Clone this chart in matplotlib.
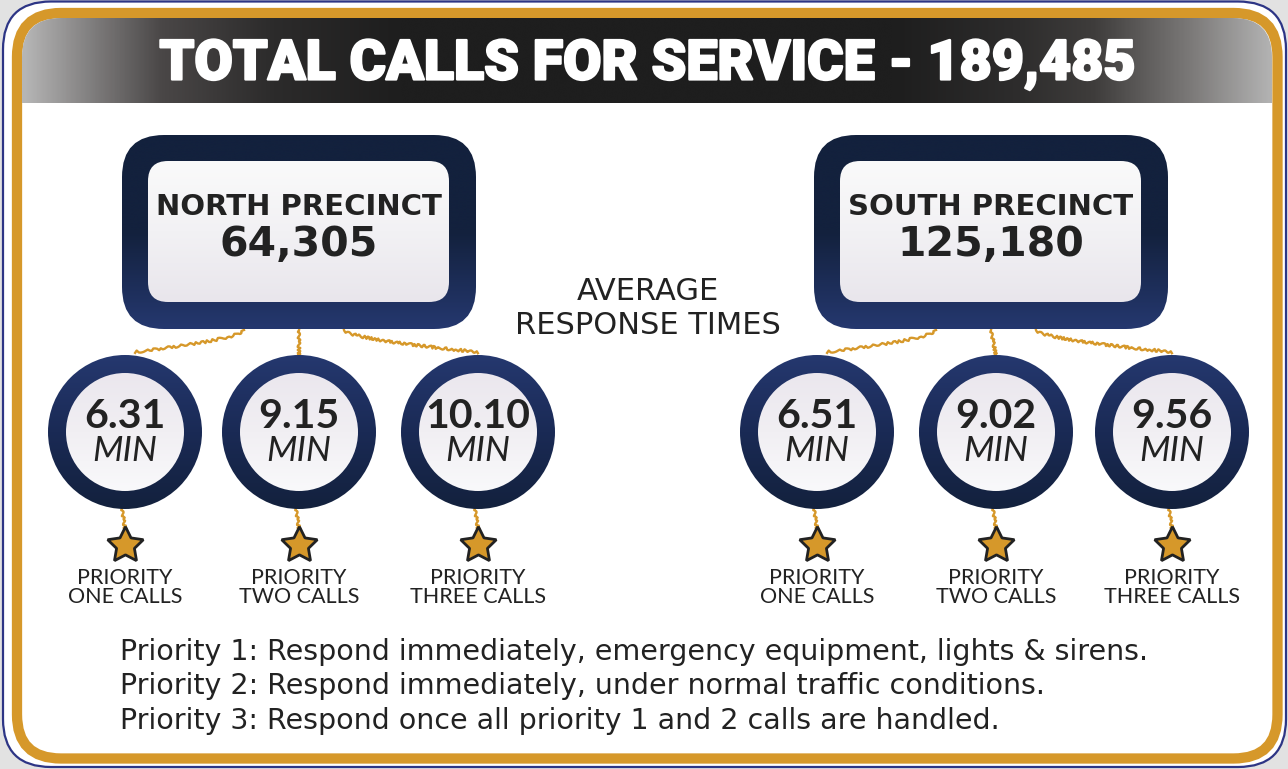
# Response times infographic
import numpy as np
import matplotlib.pyplot as plt
import matplotlib.patheffects as pe
from matplotlib.patches import FancyBboxPatch, Circle
from matplotlib.colors import LinearSegmentedColormap

# data
total_calls = "189,485"
precincts = ["NORTH PRECINCT", "SOUTH PRECINCT"]
precinct_calls = ["64,305", "125,180"]
north_times = [6.31, 9.15, 10.10]
south_times = [6.51, 9.02, 9.56]
priority_top = ["PRIORITY", "PRIORITY", "PRIORITY"]
priority_bottom = ["ONE CALLS", "TWO CALLS", "THREE CALLS"]
notes = [
    "Priority 1: Respond immediately, emergency equipment, lights & sirens.",
    "Priority 2: Respond immediately, under normal traffic conditions.",
    "Priority 3: Respond once all priority 1 and 2 calls are handled.",
]

NAVY_D = "#13213d"
NAVY_L = "#25386f"
GOLD = "#d6982a"
INK = "#222222"

W, H = 1288, 769
fig = plt.figure(figsize=(W / 100, H / 100), dpi=100)
fig.patch.set_facecolor("#e2e2e2")
ax = fig.add_axes([0, 0, 1, 1])
ax.set_axis_off()


def grad(patch, colors, extent, horizontal=False, z=1):
    # gradient image clipped to a patch
    cmap = LinearSegmentedColormap.from_list("g", colors)
    v = np.linspace(0, 1, 512)
    arr = v[None, :] if horizontal else v[:, None]
    im = ax.imshow(arr, cmap=cmap, extent=extent, origin="lower",
                   aspect="auto", zorder=z, interpolation="bicubic")
    im.set_clip_path(patch)
    return im


def rbox(x0, y0, x1, y1, r, **kw):
    return FancyBboxPatch((x0, y0), x1 - x0, y1 - y0,
                          boxstyle=f"round,pad=0,rounding_size={r}", **kw)


def thread(xs, ys, lw=1.7):
    ln, = ax.plot(xs, ys, color=GOLD, lw=lw, zorder=1.5)
    ln.set_sketch_params(1.3, 5, 3)


# frame
ax.add_patch(rbox(3, 1.5, 1286, 767, 48, fc="white", ec="#2d3585", lw=1.6, zorder=0))
ax.add_patch(rbox(17, 13, 1277.5, 758.5, 44, fc="white", ec=GOLD, lw=7.4, zorder=0.5))
inner = rbox(22, 18, 1272, 753, 39, fc="none", ec="none")
ax.add_patch(inner)

# header band
hdr_cols = [(0, "#b6b6b6"), (0.06, "#7a7878"), (0.11, "#4a4747"), (0.2, "#2c2b2b"),
            (0.3, "#1e1e1e"), (0.7, "#1e1e1e"), (0.8, "#2e2d2d"), (0.86, "#3f3d3c"),
            (0.94, "#7e7c7b"), (1, "#b2b2b2")]
grad(inner, hdr_cols, (22, 1272, 18, 103), horizontal=True, z=1)
ax.text(647, 64, f"TOTAL CALLS FOR SERVICE - {total_calls}", color="white",
        fontsize=40, fontweight="black", family=["Roboto", "DejaVu Sans"],
        ha="center", va="center", zorder=3,
        path_effects=[pe.withStroke(linewidth=1.6, foreground="white")])

# precinct boxes
box_cx = [299, 991]
for cx, name, calls in zip(box_cx, precincts, precinct_calls):
    outer = rbox(cx - 177, 135, cx + 177, 329, 42, fc="none", ec="none")
    ax.add_patch(outer)
    grad(outer, [NAVY_D, NAVY_D, NAVY_L], (cx - 177, cx + 177, 135, 329), z=2)
    inb = rbox(cx - 151, 161, cx + 150, 302, 20, fc="none", ec="none")
    ax.add_patch(inb)
    grad(inb, ["#fafafa", "#f2f1f4", "#e9e6ec"], (cx - 151, cx + 150, 161, 302), z=3)
    ax.text(cx, 207, name, fontsize=21, fontweight="bold", color=INK,
            family="DejaVu Sans", ha="center", va="center", zorder=4)
    ax.text(cx, 245, calls, fontsize=29.5, fontweight="bold", color=INK,
            family="DejaVu Sans", ha="center", va="center", zorder=4)

ax.text(648, 292, "AVERAGE", fontsize=22, color=INK, family="DejaVu Sans",
        ha="center", va="center", zorder=4)
ax.text(648, 326, "RESPONSE TIMES", fontsize=22, color=INK, family="DejaVu Sans",
        ha="center", va="center", zorder=4)

# circles, connectors, stars, labels
circle_x = [[125, 299, 478], [817, 996, 1172]]
cy = 432
t = np.linspace(0, 1, 60)
for k, (cx, times) in enumerate(zip(box_cx, [north_times, south_times])):
    xs = circle_x[k]
    # gold connectors from box to circles
    thread((cx - 55) + (xs[0] + 10 - (cx - 55)) * t, 330 + 22 * t ** 0.6)
    thread([cx, xs[1]], [330, 356])
    thread((cx + 45) + (xs[2] - (cx + 45)) * t, 330 + 22 * t ** 0.6)

    for j, (x, v) in enumerate(zip(xs, times)):
        ring = Circle((x, cy), 77, fc="none", ec="none")
        ax.add_patch(ring)
        grad(ring, [NAVY_L, "#1a2a55", NAVY_D], (x - 77, x + 77, cy - 77, cy + 77), z=2)
        disk = Circle((x, cy), 59, fc="none", ec="none")
        ax.add_patch(disk)
        grad(disk, ["#ebe7ee", "#f1eff3", "#f9f9fb"], (x - 59, x + 59, cy - 59, cy + 59), z=3)
        ax.text(x, 416, f"{v:.2f}", fontsize=29.5, fontweight="bold", color=INK,
                family=["Lato", "DejaVu Sans"], ha="center", va="center", zorder=4)
        ax.text(x, 451, "MIN", fontsize=25.5, style="italic", color=INK,
                family=["Lato", "DejaVu Sans"], ha="center", va="center", zorder=4)
        # thread to star
        thread([x - 3, x], [508, 529])
        ax.plot(x, 545, marker=(5, 1, 0), ms=27, mfc=GOLD, mec=INK,
                mew=2, zorder=4)
        ax.text(x, 578, priority_top[j], fontsize=15.5, color=INK,
                family=["Lato", "DejaVu Sans"], ha="center", va="center", zorder=4)
        ax.text(x, 597, priority_bottom[j], fontsize=15.5, color=INK,
                family=["Lato", "DejaVu Sans"], ha="center", va="center", zorder=4)

# footnotes
for i, line in enumerate(notes):
    ax.text(120, 652 + 34.5 * i, line, fontsize=20.5, color=INK,
            family="DejaVu Sans", ha="left", va="center", zorder=4)

ax.set_xlim(0, W)
ax.set_ylim(H, 0)

fig.savefig("out.png", dpi=100, facecolor=fig.get_facecolor())
